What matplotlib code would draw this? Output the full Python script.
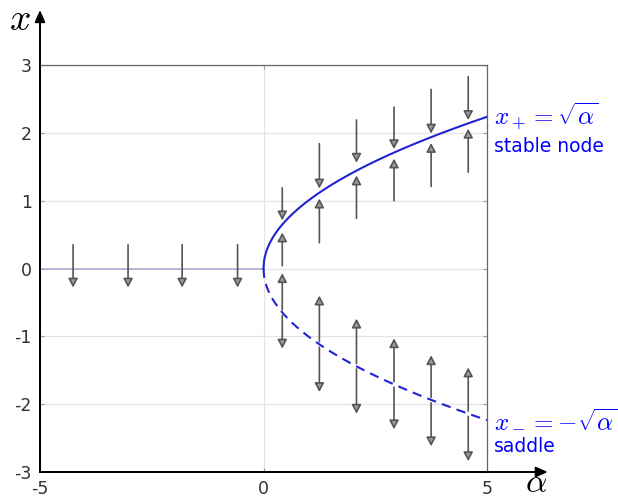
import numpy as np
import matplotlib
matplotlib.use("Agg")
import matplotlib.pyplot as plt

plt.rcParams['mathtext.fontset'] = 'cm'
plt.rcParams['font.family'] = ['DejaVu Sans']
plt.rcParams['axes.unicode_minus'] = False

# ---- data ----
alpha_curve = np.linspace(0, 5, 400)
x_plus = np.sqrt(alpha_curve)
x_minus = -np.sqrt(alpha_curve)

# arrows for alpha < 0 (flow downward)
neg_alpha = [-4.26, -3.03, -1.82, -0.58]
neg_start = [0.35, 0.35, 0.35, 0.35]
neg_end = [-0.28, -0.28, -0.28, -0.28]

# arrows for alpha > 0
pos_alpha = [0.42, 1.25, 2.08, 2.92, 3.75, 4.58]
up_above_start = [1.19, 1.84, 2.19, 2.38, 2.64, 2.83]
up_above_end = [0.71, 1.18, 1.56, 1.76, 1.99, 2.19]
up_below_start = [0.04, 0.38, 0.74, 1.00, 1.21, 1.42]
up_below_end = [0.53, 1.03, 1.37, 1.62, 1.85, 2.06]
low_above_start = [-0.61, -1.08, -1.40, -1.67, -1.90, -2.10]
low_above_end = [-0.07, -0.40, -0.74, -1.03, -1.28, -1.46]
low_below_start = [-0.69, -1.16, -1.48, -1.75, -1.98, -2.18]
low_below_end = [-1.18, -1.82, -2.14, -2.37, -2.62, -2.84]

xticks = [-5, 0, 5]
yticks = [-3, -2, -1, 0, 1, 2, 3]

W, H = 618, 499
fig = plt.figure(figsize=(W / 100, H / 100), dpi=100)
ax = fig.add_axes([40 / W, 1 - 472 / H, 447 / W, 407 / H])
ax.set_xlim(-5, 5)
ax.set_ylim(-3, 3)
ax.set_xticks(xticks)
ax.set_yticks(yticks)
ax.grid(True, color='#e4e4e4', lw=0.9)
ax.set_axisbelow(True)
ax.tick_params(direction='in', length=3, color='#999999', top=True, right=True,
               labelsize=12.5, labelcolor='#333333')
ax.tick_params(axis='x', pad=6)
ax.tick_params(axis='y', pad=6)

for s in ['top', 'right']:
    ax.spines[s].set_color('#666666')
    ax.spines[s].set_linewidth(0.9)
for s in ['left', 'bottom']:
    ax.spines[s].set_color('black')
    ax.spines[s].set_linewidth(1.4)

# axis arrows
ax_arrow = dict(arrowstyle='-|>,head_length=0.5,head_width=0.22', color='black',
                lw=1.4, shrinkA=0, shrinkB=0, mutation_scale=14)
ax.annotate('', xy=(0, 1.135), xytext=(0, 0), xycoords='axes fraction',
            arrowprops=ax_arrow, annotation_clip=False)
ax.annotate('', xy=(1.136, 0), xytext=(0, 0), xycoords='axes fraction',
            arrowprops=ax_arrow, annotation_clip=False)

# baseline for alpha < 0
ax.plot([-5, 0], [0, 0], color='#a7add0', lw=1.2, zorder=2)

curve_color = '#2323d6'
ax.plot(alpha_curve, x_plus, color=curve_color, lw=1.5, zorder=3)
ax.plot(alpha_curve, x_minus, color=curve_color, lw=1.5, ls=(0, (4.5, 3)), zorder=3)

arrow_kw = dict(arrowstyle='-|>,head_length=0.75,head_width=0.4', fc='#9a9a9a', ec='#555555',
                lw=1.2, shrinkA=0, shrinkB=0, mutation_scale=7)


def arrow(a, y0, y1):
    ax.annotate('', xy=(a, y1), xytext=(a, y0), xycoords='data',
                arrowprops=arrow_kw, zorder=4)


for a, s, e in zip(neg_alpha, neg_start, neg_end):
    arrow(a, s, e)
for i, a in enumerate(pos_alpha):
    arrow(a, up_above_start[i], up_above_end[i])
    arrow(a, up_below_start[i], up_below_end[i])
    arrow(a, low_above_start[i], low_above_end[i])
    arrow(a, low_below_start[i], low_below_end[i])

# labels
ax.text(5.15, np.sqrt(5), r'$x_+ = \sqrt{\alpha}$', color='blue', fontsize=18,
        ha='left', va='center', clip_on=False)
ax.text(5.15, 1.8, 'stable node', color='blue', fontsize=13.5,
        ha='left', va='center', clip_on=False)
ax.text(5.15, -np.sqrt(5), r'$x_- = -\sqrt{\alpha}$', color='blue', fontsize=18,
        ha='left', va='center', clip_on=False)
ax.text(5.15, -2.63, 'saddle', color='blue', fontsize=13.5,
        ha='left', va='center', clip_on=False)

fig.text(20 / W, 1 - 20 / H, r'$x$', fontsize=27, ha='center', va='center')
fig.text(536 / W, 1 - 483 / H, r'$\alpha$', fontsize=24, ha='center', va='center')

fig.savefig('out.png', dpi=100)
